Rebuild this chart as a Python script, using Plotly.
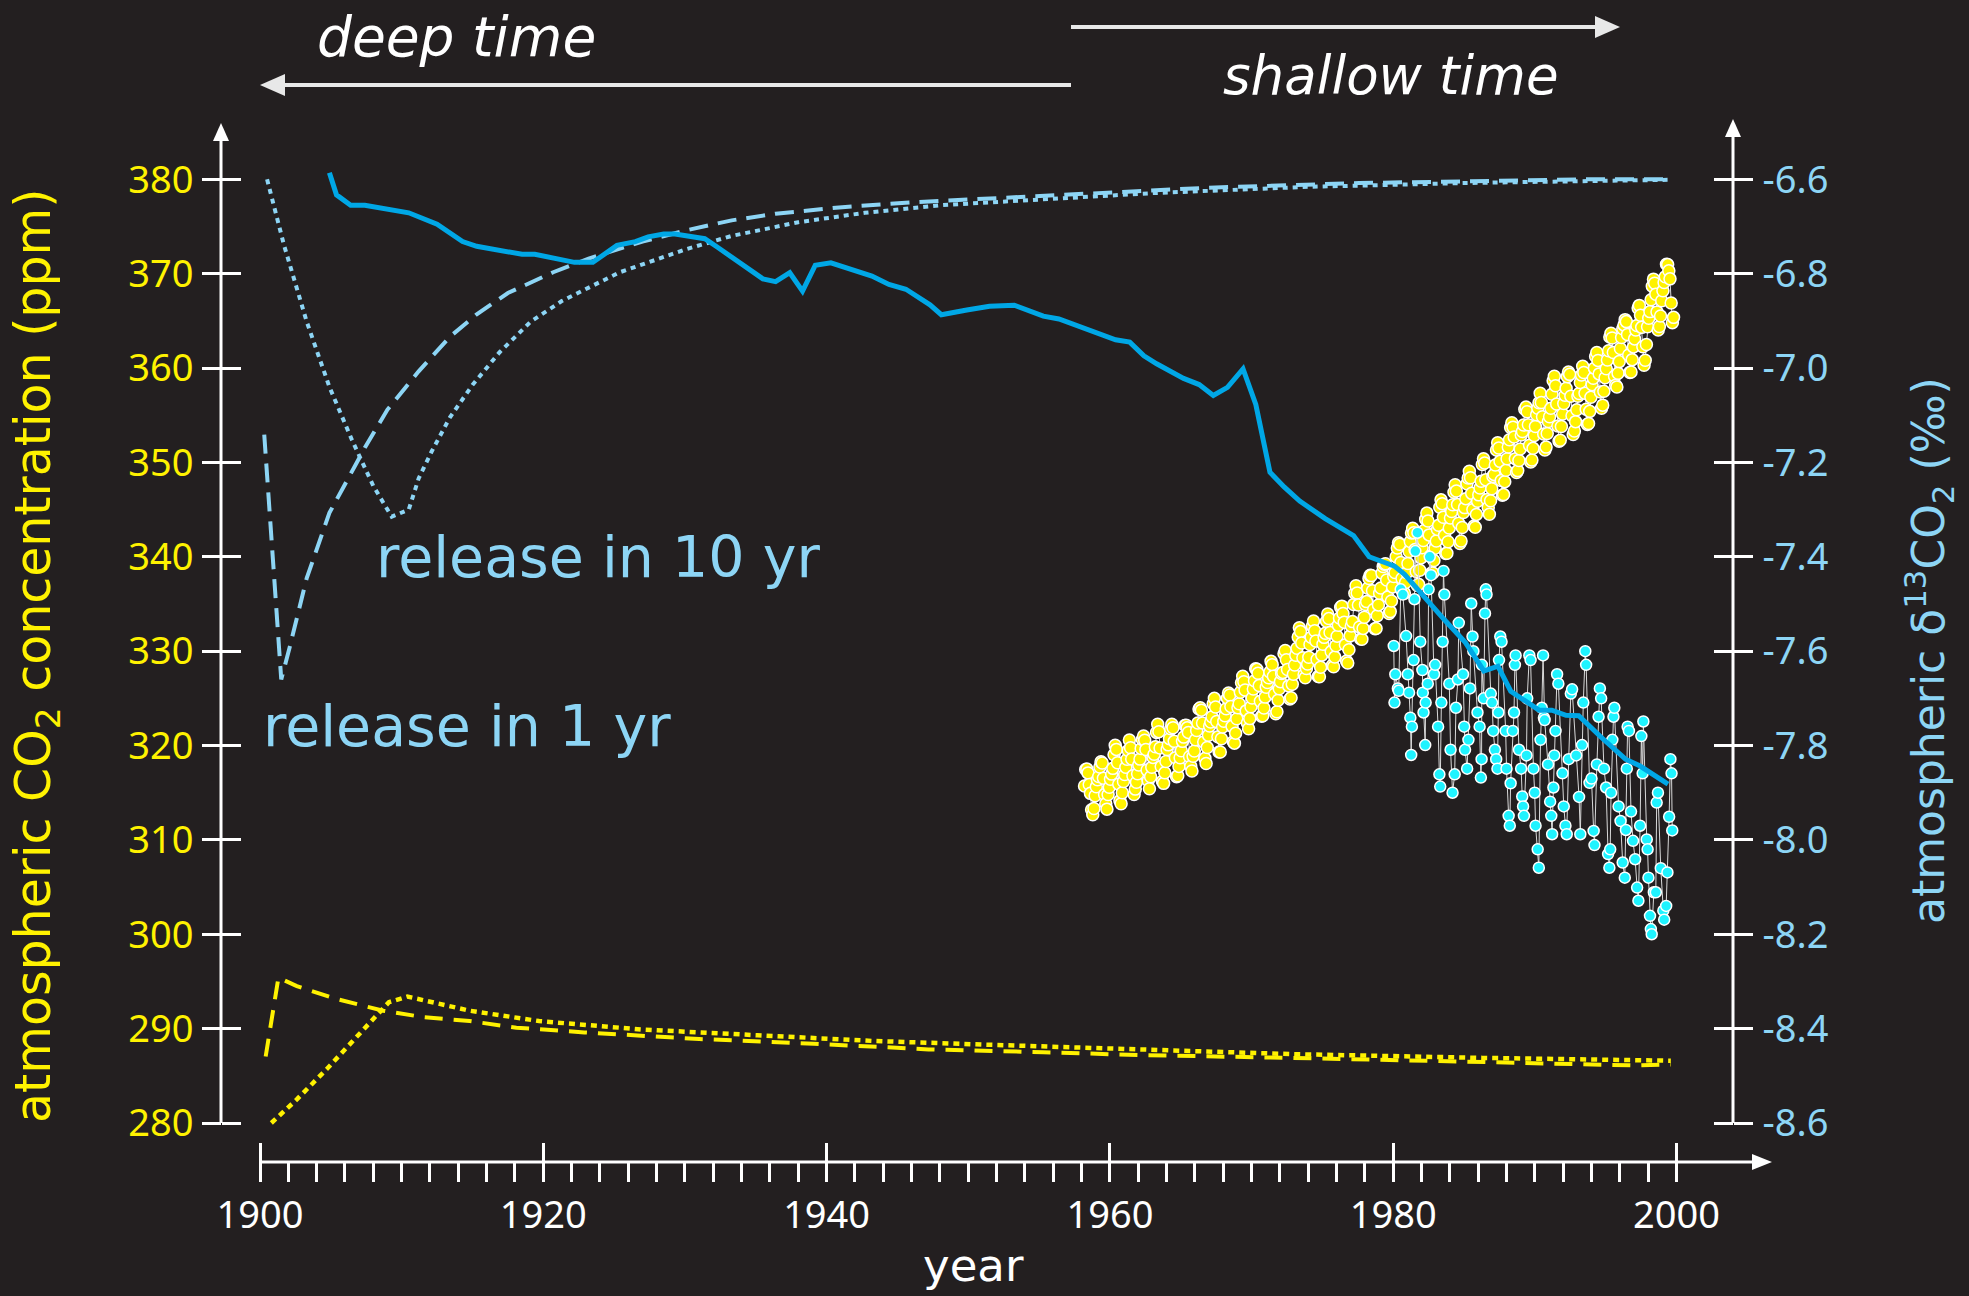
import plotly.graph_objects as go

# ---------------- tick values / labels ----------------
year_ticks = [1900, 1920, 1940, 1960, 1980, 2000]
year_tick_labels = ["1900", "1920", "1940", "1960", "1980", "2000"]
year_minor_ticks = list(range(1900, 2001, 2))
ppm_ticks = [280, 290, 300, 310, 320, 330, 340, 350, 360, 370, 380]
ppm_tick_labels = ["280", "290", "300", "310", "320", "330", "340", "350", "360", "370", "380"]
permil_ticks = [-8.6, -8.4, -8.2, -8.0, -7.8, -7.6, -7.4, -7.2, -7.0, -6.8, -6.6]
permil_tick_labels = ["-8.6", "-8.4", "-8.2", "-8.0", "-7.8", "-7.6", "-7.4", "-7.2", "-7.0", "-6.8", "-6.6"]

# ---------------- model: release in 1 yr ----------------
co2_1yr_year = [1900.4, 1901.3, 1902.6, 1905.5, 1908.7, 1911.6, 1914.8, 1918.1, 1922.9, 1931.0,
                1939.1, 1947.2, 1955.3, 1962.1, 1972.8, 1986.3, 1997.2, 1999.6]
co2_1yr_ppm = [287.05, 295.4, 294.5, 293.1, 291.9, 291.2, 290.8, 290.1, 289.6, 288.9,
               288.4, 287.8, 287.5, 287.2, 286.9, 286.4, 286.1, 286.2]
d13c_1yr_year = [1900.3, 1901.5, 1902.1, 1903.3, 1904.9, 1907.4, 1909.0, 1911.2, 1913.4, 1915.3,
                 1917.5, 1920.7, 1923.2, 1927.0, 1930.1, 1933.3, 1936.4, 1941.1, 1945.9, 1956.0,
                 1966.8, 1977.6, 1988.4, 1993.8, 1999.6]
d13c_1yr_permil = [-7.141, -7.66, -7.591, -7.445, -7.307, -7.169, -7.088, -7.007, -6.934, -6.886,
                   -6.841, -6.797, -6.768, -6.732, -6.708, -6.687, -6.673, -6.659, -6.649, -6.633,
                   -6.618, -6.608, -6.602, -6.600, -6.600]

# ---------------- model: release in 10 yr ----------------
co2_10yr_year = [1900.8, 1902.6, 1904.7, 1906.7, 1909.1, 1910.4, 1914.8, 1919.7, 1927.0, 1935.1,
                 1943.2, 1951.3, 1962.1, 1972.8, 1986.3, 1999.6]
co2_10yr_ppm = [280.0, 282.5, 285.7, 288.9, 292.8, 293.4, 291.9, 290.8, 289.9, 289.3,
                288.7, 288.3, 287.8, 287.3, 286.9, 286.6]
d13c_10yr_year = [1900.5, 1901.7, 1903.3, 1904.9, 1906.5, 1908.0, 1909.3, 1910.5, 1911.2, 1912.1,
                  1913.4, 1915.0, 1916.9, 1919.1, 1921.3, 1925.4, 1930.1, 1933.3, 1938.0, 1942.7,
                  1948.0, 1952.4, 1963.2, 1974.0, 1984.8, 1999.6]
d13c_10yr_permil = [-6.600, -6.740, -6.902, -7.040, -7.153, -7.250, -7.315, -7.300, -7.234, -7.178,
                    -7.105, -7.036, -6.967, -6.902, -6.858, -6.797, -6.748, -6.720, -6.691, -6.671,
                    -6.655, -6.647, -6.629, -6.616, -6.608, -6.601]

# ---------------- smoothed atmospheric d13C (ice / firn + air) ----------------
d13c_smooth_year = [1904.9, 1905.4, 1906.4, 1907.4, 1910.5, 1912.5, 1914.3, 1915.3, 1918.5, 1919.4,
                    1922.2, 1923.5, 1925.2, 1926.5, 1927.4, 1928.5, 1929.3, 1931.4, 1932.3, 1935.5,
                    1936.4, 1937.4, 1938.3, 1939.2, 1940.3, 1942.3, 1943.2, 1944.4, 1945.6, 1947.3,
                    1948.1, 1949.9, 1951.5, 1953.25, 1955.3, 1956.4, 1958.4, 1960.4, 1961.4, 1962.4,
                    1963.3, 1965.2, 1966.3, 1967.3, 1968.3, 1969.4, 1970.3, 1971.3, 1972.3, 1973.4,
                    1975.2, 1977.2, 1978.3, 1980.1, 1980.8, 1982.1, 1983.6, 1985.1, 1986.4, 1987.4,
                    1988.3, 1990.3, 1991.2, 1992.2, 1993.1, 1994.7, 1996.4, 1997.4, 1998.6, 1999.4]
d13c_smooth_permil = [-6.586, -6.633, -6.655, -6.655, -6.671, -6.695, -6.732, -6.742, -6.759, -6.759,
                      -6.776, -6.776, -6.740, -6.732, -6.722, -6.716, -6.716, -6.726, -6.744, -6.811,
                      -6.817, -6.798, -6.837, -6.782, -6.777, -6.798, -6.805, -6.823, -6.833, -6.866,
                      -6.887, -6.877, -6.869, -6.867, -6.890, -6.896, -6.918, -6.940, -6.945, -6.974,
                      -6.991, -7.022, -7.035, -7.058, -7.041, -7.002, -7.077, -7.221, -7.252, -7.282,
                      -7.319, -7.355, -7.400, -7.420, -7.437, -7.483, -7.533, -7.582, -7.642, -7.632,
                      -7.685, -7.725, -7.725, -7.736, -7.737, -7.783, -7.829, -7.843, -7.865, -7.882]

# ---------------- monthly CO2 (ppm), March 1958 onwards ----------------
co2_first_year = 1958
co2_first_month = 3
co2_monthly_ppm = [
    315.71, 317.45, 317.50, 317.10, 315.86, 314.93, 313.20, 312.66, 313.33, 314.67,
    315.62, 316.38, 316.71, 317.72, 318.29, 318.15, 316.54, 314.80, 313.84, 313.26, 314.80, 315.58,
    316.43, 316.97, 317.58, 319.02, 320.03, 319.59, 318.18, 315.91, 314.16, 313.83, 315.00, 316.19,
    316.93, 317.70, 318.54, 319.48, 320.58, 319.77, 318.57, 316.79, 314.80, 315.38, 316.10, 317.01,
    317.94, 318.56, 319.68, 320.63, 321.01, 320.55, 319.58, 317.40, 316.26, 315.42, 316.69, 317.69,
    318.74, 319.08, 319.86, 321.39, 322.25, 321.47, 319.74, 317.77, 316.21, 315.99, 317.12, 318.31,
    319.57, 320.07, 320.73, 321.77, 322.25, 321.89, 320.44, 318.70, 316.70, 316.79, 317.79, 318.71,
    319.44, 320.44, 320.89, 322.13, 322.16, 321.87, 321.39, 318.81, 317.81, 317.30, 318.87, 319.42,
    320.62, 321.59, 322.39, 323.87, 324.01, 323.75, 322.39, 320.37, 318.64, 318.10, 319.79, 321.08,
    322.07, 322.50, 323.04, 324.42, 325.00, 324.09, 322.55, 320.92, 319.31, 319.31, 320.72, 321.96,
    322.57, 323.15, 323.89, 325.02, 325.57, 325.36, 324.14, 322.03, 320.41, 320.25, 321.31, 322.84,
    324.00, 324.42, 325.64, 326.66, 327.34, 326.76, 325.88, 323.67, 322.38, 321.78, 322.85, 324.11,
    325.03, 325.99, 326.87, 328.13, 328.07, 327.66, 326.35, 324.69, 323.10, 323.16, 323.98, 325.13,
    326.17, 326.68, 327.18, 327.78, 328.92, 328.57, 327.34, 325.46, 323.36, 323.57, 324.80, 326.01,
    326.77, 327.63, 327.75, 329.72, 330.07, 329.09, 328.05, 326.32, 324.93, 325.06, 326.50, 327.55,
    328.54, 329.56, 330.30, 331.50, 332.48, 332.07, 330.87, 329.31, 327.51, 327.18, 328.16, 328.64,
    329.35, 330.71, 331.48, 332.65, 333.20, 332.16, 331.07, 329.12, 327.32, 327.28, 328.30, 329.58,
    330.73, 331.46, 331.90, 333.17, 333.94, 333.45, 331.98, 329.95, 328.50, 328.34, 329.37, 330.58,
    331.59, 332.75, 333.52, 334.64, 334.77, 334.00, 333.06, 330.68, 328.95, 328.75, 330.15, 331.62,
    332.66, 333.13, 334.95, 336.13, 336.93, 336.17, 334.88, 332.56, 331.29, 331.27, 332.41, 333.60,
    334.95, 335.25, 336.66, 337.69, 338.03, 338.01, 336.41, 334.41, 332.37, 332.41, 333.75, 334.90,
    336.14, 336.69, 338.27, 338.96, 339.21, 339.26, 337.54, 335.75, 333.98, 334.19, 335.31, 336.81,
    337.90, 338.34, 340.01, 340.93, 341.48, 341.33, 339.40, 337.70, 336.19, 336.15, 337.27, 338.32,
    339.29, 340.55, 341.61, 342.53, 343.03, 342.54, 340.78, 338.44, 336.95, 337.08, 338.58, 339.88,
    340.96, 341.73, 342.81, 343.97, 344.63, 343.79, 342.32, 340.09, 338.28, 338.29, 339.60, 340.90,
    341.68, 342.90, 343.33, 345.25, 346.03, 345.63, 344.19, 342.27, 340.35, 340.38, 341.59, 343.05,
    344.10, 344.79, 345.52, 346.84, 347.63, 346.97, 345.53, 343.55, 341.40, 341.67, 343.10, 344.70,
    345.21, 346.16, 347.74, 348.34, 349.06, 348.38, 346.72, 345.02, 343.27, 343.13, 344.49, 345.88,
    346.56, 347.28, 348.01, 349.77, 350.38, 349.93, 348.16, 346.08, 345.22, 344.51, 345.93, 347.21,
    348.52, 348.73, 349.73, 351.31, 352.09, 351.53, 350.11, 348.08, 346.52, 346.59, 347.96, 349.16,
    350.39, 351.64, 352.41, 353.69, 354.21, 353.72, 352.69, 350.40, 348.92, 349.13, 350.20, 351.41,
    352.91, 353.27, 353.96, 355.64, 355.86, 355.37, 353.99, 351.81, 350.05, 350.25, 351.49, 352.85,
    353.80, 355.04, 355.73, 356.32, 357.32, 356.34, 354.84, 353.01, 351.31, 351.62, 353.07, 354.33,
    354.84, 355.73, 357.23, 358.66, 359.13, 358.13, 356.19, 353.85, 352.25, 352.35, 353.81, 355.12,
    356.25, 357.11, 357.86, 359.09, 359.59, 359.33, 357.01, 354.94, 352.96, 353.32, 354.32, 355.57,
    357.00, 357.31, 358.47, 359.27, 360.19, 359.52, 357.33, 355.64, 354.03, 354.12, 355.41, 356.91,
    358.24, 358.92, 359.99, 361.23, 361.65, 360.81, 359.38, 357.46, 355.73, 356.07, 357.53, 358.98,
    359.92, 360.86, 361.83, 363.30, 363.69, 363.19, 361.64, 359.12, 358.17, 357.99, 359.45, 360.68,
    362.07, 363.24, 364.17, 364.57, 365.13, 364.92, 363.55, 361.38, 359.54, 359.58, 360.89, 362.24,
    363.09, 364.03, 364.51, 366.35, 366.64, 365.59, 364.31, 362.25, 360.29, 360.82, 362.49, 364.38,
    365.27, 365.98, 367.24, 368.66, 369.42, 368.99, 367.82, 365.95, 364.02, 364.40, 365.52, 367.13,
    368.18, 369.07, 369.68, 370.99, 370.96, 370.30, 369.45, 366.90, 364.81, 365.37,
]

# ---------------- flask d13C (permil) ----------------
d13c_flask_year = [
    1980.04, 1980.09, 1980.15, 1980.33, 1980.39, 1980.53, 1980.68, 1980.91, 1981.03, 1981.12,
    1981.21, 1981.27, 1981.32, 1981.44, 1981.50, 1981.56, 1981.71, 1981.91, 1982.06, 1982.09,
    1982.14, 1982.26, 1982.29, 1982.44, 1982.50, 1982.58, 1982.67, 1982.88, 1982.96, 1983.17,
    1983.26, 1983.32, 1983.40, 1983.49, 1983.55, 1983.61, 1983.96, 1984.05, 1984.19, 1984.34,
    1984.43, 1984.57, 1984.63, 1984.93, 1985.01, 1985.07, 1985.22, 1985.31, 1985.42, 1985.51,
    1985.60, 1985.66, 1985.95, 1986.10, 1986.19, 1986.24, 1986.26, 1986.39, 1986.48, 1986.54,
    1986.59, 1986.89, 1986.98, 1987.06, 1987.18, 1987.27, 1987.36, 1987.42, 1987.47, 1987.56,
    1987.65, 1987.94, 1988.00, 1988.15, 1988.23, 1988.29, 1988.44, 1988.53, 1988.59, 1988.64,
    1988.88, 1989.03, 1989.11, 1989.17, 1989.23, 1989.41, 1989.46, 1989.61, 1989.70, 1989.90,
    1989.99, 1990.05, 1990.20, 1990.28, 1990.40, 1990.49, 1990.58, 1990.64, 1990.69, 1990.93,
    1991.08, 1991.16, 1991.22, 1991.31, 1991.37, 1991.46, 1991.57, 1991.66, 1991.95, 1992.04,
    1992.16, 1992.25, 1992.39, 1992.54, 1992.63, 1992.92, 1993.12, 1993.21, 1993.33, 1993.42,
    1993.56, 1993.62, 1993.86, 1994.00, 1994.15, 1994.21, 1994.38, 1994.50, 1994.59, 1994.68,
    1994.88, 1995.03, 1995.17, 1995.26, 1995.32, 1995.38, 1995.47, 1995.55, 1995.61, 1995.91,
    1996.05, 1996.20, 1996.35, 1996.43, 1996.49, 1996.55, 1996.64, 1996.79, 1996.93, 1997.08,
    1997.22, 1997.31, 1997.43, 1997.52, 1997.61, 1997.66, 1997.90, 1997.96, 1998.02, 1998.13,
    1998.19, 1998.25, 1998.40, 1998.54, 1998.60, 1998.69, 1998.89, 1999.07, 1999.13, 1999.27,
    1999.36, 1999.48, 1999.57, 1999.65, 1999.70,
]
d13c_flask_permil = [
    -7.589, -7.709, -7.649, -7.679, -7.684, -7.469, -7.480, -7.568, -7.649, -7.688,
    -7.741, -7.820, -7.760, -7.619, -7.490, -7.388, -7.349, -7.580, -7.640, -7.688,
    -7.730, -7.799, -7.709, -7.669, -7.469, -7.400, -7.439, -7.649, -7.629, -7.760,
    -7.861, -7.887, -7.709, -7.580, -7.430, -7.480, -7.669, -7.809, -7.900, -7.861,
    -7.720, -7.660, -7.540, -7.649, -7.760, -7.809, -7.849, -7.788, -7.679, -7.499,
    -7.569, -7.600, -7.730, -7.760, -7.868, -7.829, -7.629, -7.700, -7.520, -7.469,
    -7.480, -7.690, -7.709, -7.769, -7.809, -7.829, -7.849, -7.730, -7.619, -7.569,
    -7.580, -7.769, -7.849, -7.949, -7.970, -7.880, -7.769, -7.730, -7.629, -7.609,
    -7.809, -7.849, -7.908, -7.929, -7.949, -7.821, -7.700, -7.609, -7.619, -7.849,
    -7.900, -7.970, -8.020, -8.059, -7.788, -7.720, -7.609, -7.741, -7.746, -7.840,
    -7.919, -7.949, -7.988, -7.889, -7.821, -7.769, -7.649, -7.669, -7.859, -7.929,
    -7.970, -7.988, -7.829, -7.690, -7.681, -7.821, -7.909, -7.988, -7.799, -7.709,
    -7.600, -7.629, -7.879, -7.870, -7.981, -8.011, -7.840, -7.739, -7.679, -7.700,
    -7.849, -7.889, -8.030, -8.059, -8.020, -7.900, -7.788, -7.739, -7.720, -7.929,
    -7.960, -8.048, -8.080, -7.979, -7.849, -7.760, -7.769, -7.940, -8.002, -8.041,
    -8.101, -8.129, -7.970, -7.780, -7.859, -7.749, -7.999, -8.020, -8.080, -8.161,
    -8.189, -8.200, -8.111, -8.111, -7.921, -7.900, -8.060, -8.150, -8.169, -8.140,
    -8.069, -7.951, -7.829, -7.859, -7.980,
]

# ---------------- styling ----------------
BG = "#231f20"
YELLOW = "#fff200"
LIGHTBLUE = "#8dd5f5"
BLUE = "#00a7e6"
CYAN = "#1ff3ff"
WHITE = "#ffffff"
ARROW_GREY = "#e8e8e8"
TICK_FONT = "Noto Sans"
TEXT_FONT = "DejaVu Sans"

W, H = 1969, 1296
ML, MR, MT, MB = 200, 169, 100, 134
PX_PER_YEAR = (1676.5 - 260) / 100.0
PX_PER_PPM = (1123 - 179.3) / 100.0
PX_PER_PERMIL = (1123 - 179.3) / 2.0
BOTTOM = H - MB

x_range = [1900 - (260 - ML) / PX_PER_YEAR, 1900 + (W - MR - 260) / PX_PER_YEAR]
y_range = [280 - (BOTTOM - 1123) / PX_PER_PPM, 280 + (1123 - MT) / PX_PER_PPM]
y2_range = [-8.6 - (BOTTOM - 1123) / PX_PER_PERMIL, -8.6 + (1123 - MT) / PX_PER_PERMIL]


def px_x(px):
    return (px - ML) / (W - ML - MR)


def px_y(py):
    return (BOTTOM - py) / (BOTTOM - MT)


co2_x = [co2_first_year + (co2_first_month - 1 + i + 0.5) / 12.0 for i in range(len(co2_monthly_ppm))]

fig = go.Figure()

fig.add_trace(go.Scatter(x=co2_1yr_year, y=co2_1yr_ppm, mode="lines",
                         line=dict(color=YELLOW, width=4, dash="18px,11px"), xaxis="x", yaxis="y"))
fig.add_trace(go.Scatter(x=co2_10yr_year, y=co2_10yr_ppm, mode="lines",
                         line=dict(color=YELLOW, width=4.5, dash="6px,5px"), xaxis="x", yaxis="y"))
fig.add_trace(go.Scatter(x=co2_x, y=co2_monthly_ppm, mode="lines+markers",
                         line=dict(color="#d9d9d9", width=1),
                         marker=dict(size=12, color=YELLOW, line=dict(color=WHITE, width=1.5)),
                         xaxis="x", yaxis="y"))

fig.add_trace(go.Scatter(x=d13c_1yr_year, y=d13c_1yr_permil, mode="lines",
                         line=dict(color=LIGHTBLUE, width=4, dash="19px,10px"), xaxis="x", yaxis="y2"))
fig.add_trace(go.Scatter(x=d13c_10yr_year, y=d13c_10yr_permil, mode="lines",
                         line=dict(color=LIGHTBLUE, width=4, dash="5px,5px"), xaxis="x", yaxis="y2"))
fig.add_trace(go.Scatter(x=d13c_flask_year, y=d13c_flask_permil, mode="lines+markers",
                         line=dict(color="#d9d9d9", width=1),
                         marker=dict(size=11, color=CYAN, line=dict(color=WHITE, width=1.5)),
                         xaxis="x", yaxis="y2"))
fig.add_trace(go.Scatter(x=d13c_smooth_year, y=d13c_smooth_permil, mode="lines",
                         line=dict(color=BLUE, width=5), xaxis="x", yaxis="y2"))

# invisible anchors so that the overlay axes carrying the inward tick halves are drawn
fig.add_trace(go.Scatter(x=[1950], y=[300], mode="markers", marker=dict(opacity=0),
                         hoverinfo="skip", xaxis="x2", yaxis="y3"))
fig.add_trace(go.Scatter(x=[1950], y=[-7.5], mode="markers", marker=dict(opacity=0),
                         hoverinfo="skip", xaxis="x", yaxis="y4"))

tick_common = dict(showgrid=False, zeroline=False, showline=False, fixedrange=True)

fig.update_layout(
    width=W, height=H,
    margin=dict(l=ML, r=MR, t=MT, b=MB, autoexpand=False),
    paper_bgcolor=BG, plot_bgcolor=BG, showlegend=False,
    xaxis=dict(range=x_range, domain=[0, 1], anchor="y",
               tickmode="array", tickvals=year_ticks, ticktext=year_tick_labels,
               ticks="outside", ticklen=19, tickwidth=2.5, tickcolor=WHITE,
               tickfont=dict(family=TICK_FONT, size=38, color=WHITE), ticklabelstandoff=0,
               minor=dict(tickmode="array", tickvals=year_minor_ticks, ticks="outside",
                          ticklen=19, tickwidth=2.5, tickcolor=WHITE),
               **tick_common),
    xaxis2=dict(range=x_range, overlaying="x", anchor="y", side="bottom",
                tickmode="array", tickvals=year_ticks, showticklabels=False,
                ticks="inside", ticklen=19, tickwidth=2.5, tickcolor=WHITE, **tick_common),
    yaxis=dict(range=y_range, domain=[0, 1], anchor="free", position=px_x(221), side="left",
               tickmode="array", tickvals=ppm_ticks, ticktext=ppm_tick_labels,
               ticks="outside", ticklen=19, tickwidth=3, tickcolor=WHITE,
               tickfont=dict(family=TICK_FONT, size=38, color=YELLOW), ticklabelstandoff=1,
               **tick_common),
    yaxis3=dict(range=y_range, overlaying="y", anchor="free", position=px_x(221), side="left",
                tickmode="array", tickvals=ppm_ticks, showticklabels=False,
                ticks="inside", ticklen=19, tickwidth=3, tickcolor=WHITE, **tick_common),
    yaxis2=dict(range=y2_range, overlaying="y", anchor="free", position=px_x(1733), side="right",
                tickmode="array", tickvals=permil_ticks, ticktext=permil_tick_labels,
                ticks="outside", ticklen=19, tickwidth=3, tickcolor=WHITE,
                tickfont=dict(family=TICK_FONT, size=38, color=LIGHTBLUE), ticklabelstandoff=2,
                **tick_common),
    yaxis4=dict(range=y2_range, overlaying="y", anchor="free", position=px_x(1733), side="right",
                tickmode="array", tickvals=permil_ticks, showticklabels=False,
                ticks="inside", ticklen=19, tickwidth=3, tickcolor=WHITE, **tick_common),
)

# axis lines and arrows, drawn in paper space; arrow heads as pixel-sized paths
shapes = [
    dict(type="line", xref="paper", yref="paper", x0=px_x(221), x1=px_x(221), y0=px_y(1123), y1=px_y(138),
         line=dict(color=WHITE, width=3)),
    dict(type="line", xref="paper", yref="paper", x0=px_x(1733), x1=px_x(1733), y0=px_y(1123), y1=px_y(134),
         line=dict(color=WHITE, width=3)),
    dict(type="line", xref="paper", yref="paper", x0=px_x(259), x1=px_x(1755), y0=px_y(BOTTOM), y1=px_y(BOTTOM),
         line=dict(color=WHITE, width=3)),
    dict(type="line", xref="paper", yref="paper", x0=px_x(1071), x1=px_x(1598), y0=px_y(27), y1=px_y(27),
         line=dict(color=ARROW_GREY, width=4)),
    dict(type="line", xref="paper", yref="paper", x0=px_x(1071), x1=px_x(282), y0=px_y(85), y1=px_y(85),
         line=dict(color=ARROW_GREY, width=4)),
    dict(type="path", xref="paper", yref="paper", xsizemode="pixel", ysizemode="pixel",
         xanchor=px_x(221), yanchor=px_y(123), path="M 0,0 L -8,-18 L 8,-18 Z",
         fillcolor=WHITE, line=dict(width=0)),
    dict(type="path", xref="paper", yref="paper", xsizemode="pixel", ysizemode="pixel",
         xanchor=px_x(1733), yanchor=px_y(119), path="M 0,0 L -8,-18 L 8,-18 Z",
         fillcolor=WHITE, line=dict(width=0)),
    dict(type="path", xref="paper", yref="paper", xsizemode="pixel", ysizemode="pixel",
         xanchor=px_x(1772), yanchor=px_y(BOTTOM), path="M 0,0 L -20,8 L -20,-8 Z",
         fillcolor=WHITE, line=dict(width=0)),
    dict(type="path", xref="paper", yref="paper", xsizemode="pixel", ysizemode="pixel",
         xanchor=px_x(1620), yanchor=px_y(27), path="M 0,0 L -25,11 L -25,-11 Z",
         fillcolor=ARROW_GREY, line=dict(width=0)),
    dict(type="path", xref="paper", yref="paper", xsizemode="pixel", ysizemode="pixel",
         xanchor=px_x(260), yanchor=px_y(85), path="M 0,0 L 25,11 L 25,-11 Z",
         fillcolor=ARROW_GREY, line=dict(width=0)),
]

text_common = dict(xref="paper", yref="paper", showarrow=False, xanchor="center", yanchor="middle")
annotations = [
    dict(x=px_x(456), y=px_y(37), text="<i>deep time</i>",
         font=dict(family=TEXT_FONT, size=55, color=WHITE), **text_common),
    dict(x=px_x(1391), y=px_y(75), text="<i>shallow time</i>",
         font=dict(family=TEXT_FONT, size=53, color=WHITE), **text_common),
    dict(x=px_x(36), y=px_y(656), textangle=-90,
         text="atmospheric CO<sub>2</sub> concentration (ppm)",
         font=dict(family=TEXT_FONT, size=49, color=YELLOW), **text_common),
    dict(x=px_x(1929), y=px_y(651), textangle=-90,
         text="atmospheric δ<sup>13</sup>CO<sub>2</sub> (‰)",
         font=dict(family=TEXT_FONT, size=44, color=LIGHTBLUE), **text_common),
    dict(x=px_x(973), y=px_y(1265), text="year",
         font=dict(family=TEXT_FONT, size=45, color=WHITE), **text_common),
    dict(x=px_x(598), y=px_y(557), text="release in 10 yr",
         font=dict(family=TEXT_FONT, size=57, color=LIGHTBLUE), **text_common),
    dict(x=px_x(467), y=px_y(726), text="release in 1 yr",
         font=dict(family=TEXT_FONT, size=57, color=LIGHTBLUE), **text_common),
]
fig.update_layout(shapes=shapes, annotations=annotations)

fig.write_html("out.html")
